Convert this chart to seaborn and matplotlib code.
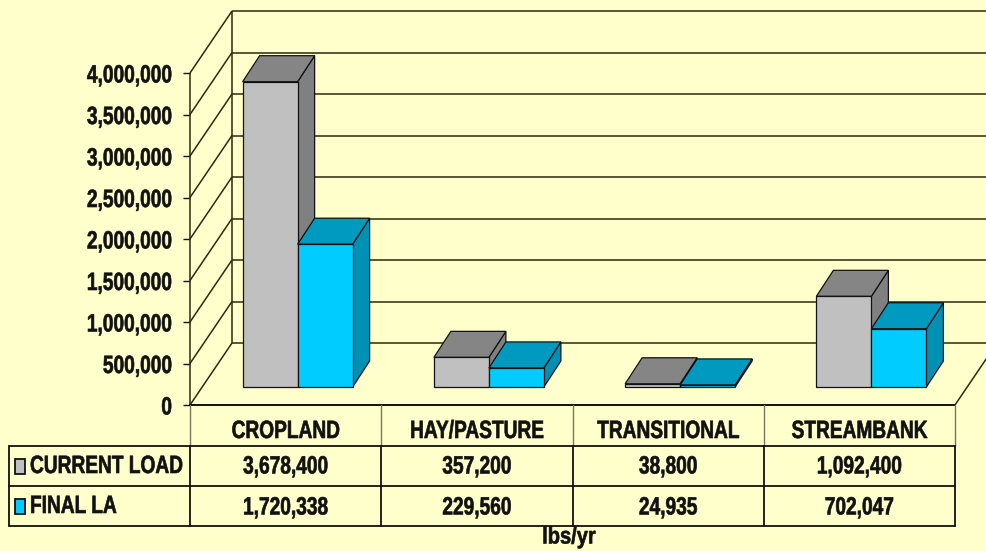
import matplotlib
matplotlib.use("Agg")
import matplotlib.pyplot as plt
from matplotlib.patches import Polygon, Rectangle
from matplotlib.patheffects import AbstractPathEffect
from matplotlib.transforms import Affine2D
import seaborn as sns
import pandas as pd

categories = ["CROPLAND", "HAY/PASTURE", "TRANSITIONAL", "STREAMBANK"]
current_load = [3678400, 357200, 38800, 1092400]
final_la = [1720338, 229560, 24935, 702047]
series_names = ["CURRENT LOAD", "FINAL LA"]
yticks = [0, 500000, 1000000, 1500000, 2000000, 2500000, 3000000, 3500000, 4000000]

W, H = 987, 551
BG = "#FFFFCC"
FRONT = ["#C0C0C0", "#00CCFF"]
TOP = ["#858585", "#0099BF"]
SIDE = ["#808080", "#0090B4"]
INK = "#111111"
FONT = ["Liberation Sans", "DejaVu Sans"]

sns.set_theme(style="white")
plt.rcParams["font.family"] = FONT
plt.rcParams["font.weight"] = "bold"

fig = plt.figure(figsize=(W / 100, H / 100), dpi=100, facecolor=BG)


class Condense(AbstractPathEffect):
    """Narrow a real text artist around its anchor (stand-in for a condensed face)."""

    def __init__(self, text, sx):
        super().__init__()
        self.text, self.sx = text, sx

    def draw_path(self, renderer, gc, tpath, affine, rgbFace=None):
        cx = self.text.get_transform().transform(self.text.get_position())[0]
        squeeze = Affine2D().translate(-cx, 0).scale(self.sx, 1).translate(cx, 0)
        gc2 = renderer.new_gc()
        gc2.copy_properties(gc)
        gc2.set_foreground(INK)
        gc2.set_linewidth(0.45)
        renderer.draw_path(gc2, tpath, affine + squeeze, rgbFace)
        gc2.restore()


def condense(text, sx=0.765):
    text.set_path_effects([Condense(text, sx)])
    return text


def rect(x0, y_bottom, x1, y_top):
    return [x0 / W, 1 - y_bottom / H, (x1 - x0) / W, (y_bottom - y_top) / H]


PX_X = 191.25         # pixels per category
PX_Y = 83 / 1000000   # pixels per unit value

# ---- walls and axis
ax = fig.add_axes(rect(190, 405, 955, 73), facecolor="none")
ax.set_xlim(-0.5, 3.5)
ax.set_ylim(0, 4000000)
for s in ax.spines.values():
    s.set_visible(False)
ax.set_xticks([])
ax.set_yticks(yticks)
ax.set_yticklabels([f"{v:,}" for v in yticks], fontsize=18, fontweight="bold", color=INK)
ax.tick_params(axis="y", length=5, width=1, color=INK, left=True, pad=8)
for lab in ax.get_yticklabels():
    condense(lab)
ddx, ddy = 42 / PX_X, 62 / PX_Y
lw = dict(color="#2a2a10", lw=1.1, clip_on=False, solid_capstyle="butt")
ax.plot([-0.5, -0.5], [0, 4000000], **lw)
ax.plot([-0.5 + ddx] * 2, [ddy, 4000000 + ddy], **lw)
for t in yticks:
    ax.plot([-0.5, -0.5 + ddx], [t, t + ddy], **lw)
    ax.plot([-0.5 + ddx, 3.5 + ddx], [t + ddy, t + ddy], **lw)
ax.plot([-0.5, 3.5], [0, 0], color=INK, lw=1.4, clip_on=False)
ax.plot([3.5, 3.5 + ddx], [0, ddy], **lw)

# ---- bars
bx = fig.add_axes(rect(202, 387, 967, 55), facecolor="none")
df = pd.DataFrame({
    "category": categories * 2,
    "series": [series_names[0]] * 4 + [series_names[1]] * 4,
    "value": current_load + final_la,
})
sns.barplot(data=df, x="category", y="value", hue="series", order=categories,
            hue_order=series_names, palette=FRONT, width=0.575, gap=0, saturation=1,
            legend=False, edgecolor=INK, linewidth=0.9, ax=bx, zorder=3)
bx.set_xlim(-0.5, 3.5)
bx.set_ylim(0, 4000000)
bx.axis("off")
bdx, bdy = 17 / PX_X, 26 / PX_Y
for i, p in enumerate(list(bx.patches)):
    k = i // 4
    z = 2 + 2 * k
    p.set_zorder(z + 0.5)
    p.set_clip_on(False)
    x0, x1, h = p.get_x(), p.get_x() + p.get_width(), p.get_height()
    top = [(x0, h), (x1, h), (x1 + bdx, h + bdy), (x0 + bdx, h + bdy)]
    side = [(x1, 0), (x1 + bdx, bdy), (x1 + bdx, h + bdy), (x1, h)]
    for pts, col in ((side, SIDE[k]), (top, TOP[k])):
        bx.add_patch(Polygon(pts, closed=True, facecolor=col, edgecolor=INK, lw=0.9,
                             zorder=z, clip_on=False))

# ---- data table
tb = fig.add_axes([0, 0, 1, 1], facecolor="none")
tb.set_xlim(0, W)
tb.set_ylim(H, 0)
tb.axis("off")
cols = [190 + PX_X * i for i in range(5)]
for x in cols:
    tb.plot([x, x], [405, 446], color="#77775a", lw=1)
for y in (446, 486, 526):
    tb.plot([9, 955], [y, y], color=INK, lw=1.3)
for x in [9] + cols:
    tb.plot([x, x], [446, 526], color=INK, lw=1.3)
for i, c in enumerate(categories):
    xc = (cols[i] + cols[i + 1]) / 2
    condense(tb.text(xc, 431, c, ha="center", va="center", fontsize=18, color=INK))
    condense(tb.text(xc, 466.5, f"{current_load[i]:,}", ha="center", va="center", fontsize=18, color=INK))
    condense(tb.text(xc, 507.5, f"{final_la[i]:,}", ha="center", va="center", fontsize=18, color=INK))
for name, yc, col in zip(series_names, (466, 506), FRONT):
    tb.add_patch(Rectangle((15, yc - 7.5), 10, 15, facecolor=col, edgecolor=INK, lw=1.3))
    condense(tb.text(30, yc, name, ha="left", va="center", fontsize=18, color=INK))
condense(tb.text(569, 537, "lbs/yr", ha="center", va="center", fontsize=17, color=INK), 0.85)

fig.savefig("out.png", dpi=100, facecolor=BG)
